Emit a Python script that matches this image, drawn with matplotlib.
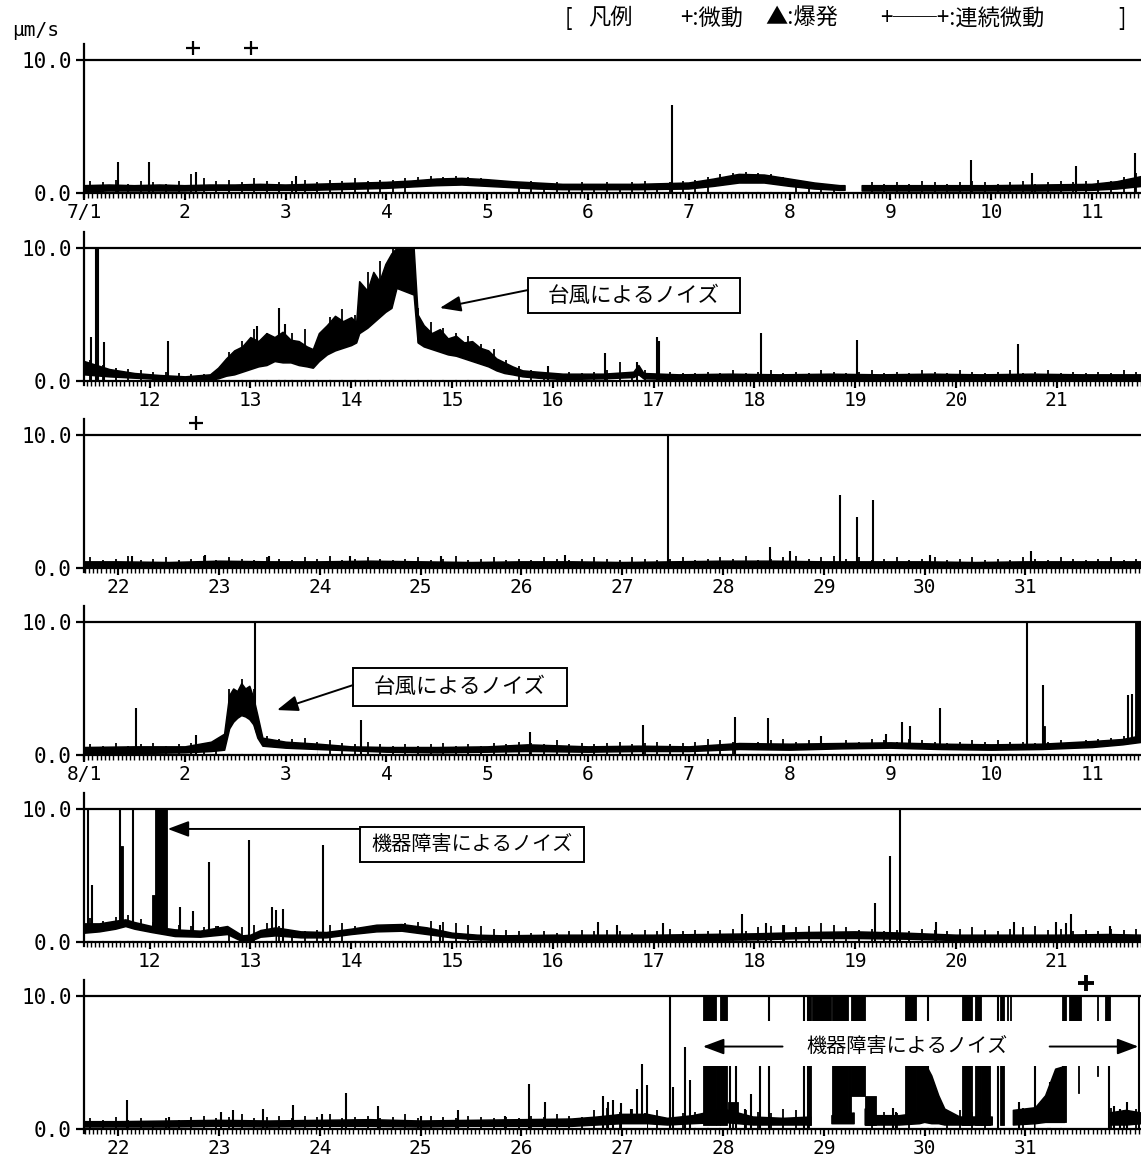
import numpy as np
import matplotlib.pyplot as plt
from matplotlib.patches import Rectangle
from matplotlib.ticker import MultipleLocator

nan = np.nan
JP = ['Noto Sans CJK JP', 'DejaVu Sans']
MONO = 'DejaVu Sans Mono'

# ---------------- data (days of month, amplitude in um/s) ----------------
# panel starts (day of month at the left edge)
starts = [1.0, 11.35, 21.66, 1.0, 11.35, 21.66]

# 7/1 - 7/11
p1_t = [1.0, 1.25, 1.5, 1.75, 2.0, 2.25, 2.5, 2.75, 3.0, 3.25, 3.5, 3.75, 4.0, 4.25, 4.5,
        4.75, 5.0, 5.25, 5.5, 5.75, 6.0, 6.5, 7.0, 7.25, 7.5, 7.75, 8.0, 8.25, 8.5, 8.55,
        8.6, 8.72, 9.0, 9.5, 10.0, 10.5, 11.0, 11.25, 11.5]
p1_lo = [0.1, 0.15, 0.15, 0.15, 0.15, 0.2, 0.2, 0.2, 0.2, 0.2, 0.25, 0.3, 0.35, 0.45, 0.55,
         0.6, 0.5, 0.4, 0.3, 0.25, 0.25, 0.25, 0.3, 0.5, 0.75, 0.75, 0.5, 0.3, 0.2, 0.2,
         nan, 0.15, 0.15, 0.15, 0.15, 0.15, 0.2, 0.3, 0.5]
p1_hi = [0.55, 0.6, 0.55, 0.6, 0.55, 0.6, 0.6, 0.65, 0.6, 0.65, 0.7, 0.75, 0.8, 0.9, 1.05,
         1.1, 1.0, 0.85, 0.75, 0.65, 0.65, 0.65, 0.75, 1.05, 1.4, 1.35, 1.05, 0.75, 0.55, 0.55,
         nan, 0.55, 0.55, 0.55, 0.55, 0.6, 0.65, 0.85, 1.25]
p1_tick = [0.9, 0.8, 1.0, 0.7, 0.9, 0.8, 0.7, 0.9,
           1.4, 1.1, 0.9, 1.0, 0.8, 1.1, 0.9, 0.8,
           0.9, 1.0, 0.8, 1.0, 0.9, 1.1, 0.9, 1.0,
           1.0, 1.1, 1.2, 1.3, 1.2, 1.3, 1.2, 1.1,
           1.0, 0.9, 0.8, 0.9, 0.7, 0.8, 0.7, 0.8,
           0.7, 0.8, 0.7, 0.8, 0.9, 0.7, 0.8, 0.9,
           1.0, 1.2, 1.4, 1.5, 1.6, 1.5, 1.4, 1.2,
           0.9, 0.8, 0.7, 0.6, nan, nan, 0.8, 0.7,
           0.8, 0.7, 0.9, 0.8, 0.7, 0.8, 0.9, 0.8,
           0.7, 0.8, 0.9, 0.7, 0.8, 0.9, 0.8, 0.9,
           1.0, 0.9, 1.2, 1.5]
p1_spk_t = [1.34, 1.64, 2.11, 3.1, 6.83, 9.80, 10.4, 10.84, 11.43]
p1_spk_v = [2.3, 2.3, 1.6, 1.3, 6.6, 2.5, 1.5, 2.0, 3.0]

# 7/11 - 7/21 (typhoon)
p2_t = [11.35, 11.6, 11.85, 12.1, 12.35, 12.6, 12.68, 12.76, 12.84, 12.92, 13.0, 13.08, 13.16,
        13.24, 13.32, 13.4, 13.48, 13.56, 13.62, 13.68, 13.76, 13.84, 13.92, 14.0, 14.05, 14.08,
        14.16, 14.22, 14.28, 14.34, 14.4, 14.45, 14.62, 14.66, 14.72, 14.8, 14.88, 14.96, 15.04,
        15.12, 15.2, 15.28, 15.36, 15.44, 15.52, 15.6, 15.7, 15.85, 16.1, 16.5, 16.8, 16.85,
        16.9, 17.25, 17.75, 18.25, 18.75, 19.25, 19.75, 20.25, 20.75, 21.25, 21.85]
p2_lo = [0.5, 0.35, 0.25, 0.15, 0.05, 0.1, 0.2, 0.4, 0.5, 0.7, 0.9, 1.1, 1.2,
         1.5, 1.4, 1.4, 1.2, 1.1, 1.0, 1.5, 2.0, 2.3, 2.5, 2.7, 2.9, 3.6,
         4.0, 4.4, 4.8, 5.2, 5.5, 7.0, 6.5, 2.9, 2.6, 2.4, 2.2, 2.0, 1.9,
         1.7, 1.5, 1.3, 1.1, 0.8, 0.6, 0.5, 0.35, 0.25, 0.15, 0.2, 0.3, 0.5,
         0.2, 0.15, 0.15, 0.15, 0.15, 0.15, 0.15, 0.15, 0.15, 0.15, 0.15]
p2_hi = [1.5, 0.9, 0.6, 0.45, 0.35, 0.5, 1.0, 1.7, 2.3, 2.6, 3.3, 3.0, 3.6,
         3.3, 3.7, 3.1, 3.0, 2.6, 2.4, 3.6, 4.2, 4.9, 4.5, 4.8, 4.4, 7.5,
         6.8, 8.2, 7.5, 8.8, 9.6, 10, 10, 5.0, 4.2, 3.6, 3.9, 3.2, 3.4,
         2.9, 3.0, 2.5, 2.3, 1.7, 1.4, 1.1, 0.8, 0.7, 0.55, 0.55, 0.7, 1.2,
         0.6, 0.5, 0.55, 0.5, 0.55, 0.5, 0.55, 0.5, 0.55, 0.5, 0.5]
p2_tick = [1.6, 1.2, 1.0, 0.9, 0.8, 0.7, 0.7, 0.6,
           0.5, 0.5, 0.4, 2.2, 3.0, 3.9, 3.6, 4.1,
           3.6, 3.9, 3.0, 4.8, 5.4, 5.0, 8.2, 9.0,
           10, 10, 5.5, 4.4, 4.0, 3.6, 3.4, 2.8,
           2.4, 1.6, 1.1, 0.8, 0.7, 0.6, 0.7, 0.6,
           0.7, 0.8, 1.4, 0.7, 0.8, 0.6, 0.7, 0.6,
           0.6, 0.7, 0.6, 0.8, 0.6, 0.7, 0.8, 0.6,
           0.7, 0.6, 0.8, 0.7, 0.6, 0.7, 0.8, 0.6,
           0.7, 0.6, 0.8, 0.7, 0.6, 0.8, 0.7, 0.6,
           0.7, 0.8, 0.6, 0.7, 0.8, 0.6, 0.7, 0.6,
           0.7, 0.6, 0.8, 0.7]
p2_spk_t = [11.42, 11.47, 11.49, 11.55, 12.18, 13.07, 13.28, 13.34, 15.95, 16.52, 16.84,
            17.03, 17.05, 18.07, 19.02, 20.62]
p2_spk_v = [3.3, 10, 10, 2.9, 3.0, 4.1, 5.5, 4.3, 1.1, 2.1, 1.4, 3.3, 3.0, 3.6, 3.1, 2.8]

# 7/22 - 7/31
p3_t = [21.66, 22.0, 22.5, 23.0, 23.5, 24.0, 24.5, 25.0, 25.5, 26.0, 26.5, 27.0, 27.5, 28.0,
        28.5, 29.0, 29.5, 30.0, 30.5, 31.0, 31.5, 32.15]
p3_lo = [0.1, 0.1, 0.1, 0.15, 0.1, 0.1, 0.15, 0.1, 0.1, 0.1, 0.1, 0.1, 0.1, 0.15, 0.15, 0.1,
         0.1, 0.1, 0.1, 0.1, 0.1, 0.1]
p3_hi = [0.5, 0.5, 0.45, 0.55, 0.5, 0.5, 0.55, 0.5, 0.45, 0.5, 0.5, 0.45, 0.5, 0.55, 0.55,
         0.5, 0.5, 0.5, 0.45, 0.5, 0.5, 0.5]
p3_tick = [0.8, 0.6, 0.7, 0.9, 0.6, 0.7, 0.8, 0.6,
           0.7, 0.9, 0.6, 0.8, 0.7, 0.6, 0.8, 0.7,
           0.6, 0.8, 0.7, 0.9, 0.6, 0.7, 0.8, 0.7,
           0.6, 0.7, 0.8, 0.6, 0.7, 0.9, 0.6, 0.7,
           0.8, 0.6, 0.7, 0.6, 0.8, 0.7, 0.6, 0.7,
           0.8, 0.7, 0.6, 0.8, 0.7, 0.6, 0.7, 0.8,
           0.6, 0.7, 0.8, 0.7, 0.9, 0.6, 0.7, 0.8,
           0.9, 0.7, 0.8, 0.9, 0.7, 0.8, 0.6, 0.7,
           0.8, 0.6, 0.7, 0.8, 0.6, 0.7, 0.8, 0.6,
           0.7, 0.6, 0.8, 0.7, 0.6, 0.8, 0.7, 0.6,
           0.7, 0.8, 0.6, 0.7]
p3_spk_t = [22.14, 22.86, 23.5, 24.3, 25.2, 26.43, 27.45, 28.47, 28.66, 29.16, 29.33, 29.49,
            30.05, 31.05]
p3_spk_v = [0.9, 1.0, 0.9, 0.9, 0.9, 1.0, 10, 1.6, 1.3, 5.5, 3.8, 5.1, 1.0, 1.3]

# 8/1 - 8/11 (typhoon)
p4_t = [1.0, 1.5, 2.0, 2.26, 2.39, 2.44, 2.48, 2.52, 2.56, 2.6, 2.64, 2.68, 2.72, 2.77, 3.0,
        3.32, 3.65, 4.0, 4.5, 5.0, 5.4, 6.0, 6.5, 7.0, 7.5, 8.0, 8.5, 9.0, 9.5, 10.0, 10.5,
        11.0, 11.3, 11.5]
p4_lo = [0.15, 0.15, 0.2, 0.3, 0.4, 2.0, 2.5, 2.8, 3.0, 2.9, 2.7, 2.3, 1.3, 0.7, 0.55,
         0.45, 0.35, 0.25, 0.2, 0.25, 0.3, 0.25, 0.3, 0.3, 0.45, 0.4, 0.5, 0.55, 0.45, 0.4, 0.45,
         0.6, 0.8, 1.0]
p4_hi = [0.6, 0.65, 0.65, 1.0, 1.6, 4.5, 5.0, 4.8, 5.4, 5.0, 5.2, 4.3, 3.0, 1.3, 1.0,
         0.85, 0.65, 0.6, 0.6, 0.65, 0.8, 0.65, 0.7, 0.65, 0.9, 0.85, 0.9, 0.95, 0.85, 0.8, 0.85,
         1.05, 1.2, 1.5]
p4_tick = [0.8, 0.7, 0.9, 0.7, 0.8, 0.9, 0.7, 0.8,
           0.9, 0.8, 1.0, 5.0, 5.7, 5.0, 1.4, 1.2,
           1.2, 1.3, 1.0, 1.1, 0.9, 0.8, 1.0, 0.8,
           0.7, 0.8, 0.7, 0.8, 0.9, 0.7, 0.8, 0.7,
           0.9, 0.8, 1.0, 0.9, 0.8, 1.1, 0.8, 0.9,
           0.8, 0.9, 1.0, 0.8, 0.9, 1.0, 0.8, 0.9,
           1.0, 1.2, 1.1, 1.0, 0.9, 1.0, 1.1, 1.2,
           1.0, 1.1, 1.0, 0.9, 1.1, 1.0, 1.2, 1.1,
           1.0, 1.2, 1.1, 1.0, 0.9, 1.0, 1.1, 1.0,
           1.1, 1.0, 1.0, 0.9, 1.0, 1.1, 1.0, 1.1,
           1.2, 1.3, 1.4, 1.8]
p4_spk_t = [1.52, 2.11, 2.70, 3.75, 5.42, 6.55, 7.46, 7.79, 8.31, 8.96, 9.12, 9.19, 9.49,
            10.36, 10.51, 11.36, 11.40]
p4_spk_v = [3.5, 1.5, 10, 2.6, 1.75, 2.25, 2.85, 2.75, 1.4, 1.6, 2.5, 2.2, 3.5, 10, 5.3, 4.5, 4.6]
p4_blk_t0 = [10.50, 11.43]
p4_blk_t1 = [10.53, 11.50]
p4_blk_lo = [0.5, 1.0]
p4_blk_hi = [2.2, 10]

# 8/11 - 8/21 (instrument trouble at the start)
p5_t = [11.35, 11.5, 11.66, 11.76, 11.85, 12.02, 12.25, 12.5, 12.77, 12.92, 13.0, 13.1, 13.25,
        13.5, 13.75, 14.0, 14.25, 14.5, 14.75, 15.0, 15.25, 15.5, 16.0, 16.5, 17.0, 17.5, 18.0,
        18.5, 19.0, 19.5, 20.0, 20.5, 21.0, 21.5, 21.85]
p5_lo = [0.7, 0.8, 1.0, 1.2, 1.0, 0.75, 0.45, 0.4, 0.6, 0.05, 0.1, 0.4, 0.5, 0.35, 0.35, 0.6,
         0.8, 0.85, 0.6, 0.35, 0.2, 0.15, 0.15, 0.15, 0.15, 0.15, 0.2, 0.3, 0.3, 0.25, 0.15,
         0.15, 0.15, 0.15, 0.15]
p5_hi = [1.4, 1.4, 1.6, 1.7, 1.5, 1.2, 0.95, 0.85, 1.2, 0.5, 0.55, 0.9, 1.1, 0.8, 0.75, 1.0,
         1.3, 1.35, 1.1, 0.7, 0.55, 0.5, 0.55, 0.55, 0.55, 0.6, 0.65, 0.75, 0.8, 0.7, 0.55, 0.55,
         0.55, 0.6, 0.55]
p5_tick = [1.8, 1.6, 1.9, 2.0, 1.7, 1.5, 1.4, 1.3,
           1.2, 1.1, 1.2, 1.0, 1.1, 1.3, 1.4, 1.2,
           0.9, 0.8, 0.9, 1.3, 1.4, 1.2, 1.1, 1.0,
           1.2, 1.4, 1.5, 1.6, 1.5, 1.4, 1.3, 1.2,
           1.0, 0.9, 0.8, 0.7, 0.8, 0.7, 0.8, 0.9,
           0.8, 0.9, 0.8, 0.7, 0.9, 0.8, 1.0, 0.8,
           0.9, 0.8, 0.9, 1.0, 0.8, 1.1, 1.2, 1.3,
           1.1, 1.2, 1.4, 1.3, 1.1, 0.9, 1.0, 0.8,
           0.9, 0.8, 1.0, 0.9, 0.8, 1.0, 1.1, 0.9,
           0.8, 1.0, 1.1, 1.2, 0.9, 1.0, 0.8, 0.9,
           0.8, 1.0, 0.9, 1.0]
p5_spk_t = [11.39, 11.43, 11.71, 11.84, 12.3, 12.43, 12.59, 12.68, 12.99, 13.22, 13.25, 13.32,
            13.72, 14.88, 16.45, 16.64, 17.09, 17.88, 18.12, 18.29, 19.20, 19.35, 19.45, 19.80,
            20.58, 20.99, 21.09, 21.14, 21.53]
p5_spk_v = [10, 4.3, 10, 10, 2.65, 2.3, 6.05, 1.2, 7.7, 2.65, 2.4, 2.5, 7.3, 1.3, 1.5, 1.25,
            1.4, 2.1, 1.4, 1.3, 2.9, 6.45, 10, 1.5, 1.5, 1.5, 1.4, 2.1, 1.2]
p5_blk_t0 = [11.70, 12.02, 12.05]
p5_blk_t1 = [11.735, 12.05, 12.17]
p5_blk_lo = [1.3, 1.0, 0.9]
p5_blk_hi = [7.2, 3.5, 10]

# 8/22 - 8/31 (instrument trouble at the end)
p6_t = [21.66, 22.0, 22.5, 23.0, 23.5, 24.0, 24.5, 25.0, 25.5, 26.0, 26.5, 26.75, 27.0, 27.25,
        27.45, 27.7, 28.0, 28.3, 28.6, 28.87, 28.97, 29.08, 29.3, 29.35, 29.41, 29.5, 29.75,
        29.95, 30.0, 30.07, 30.14, 30.2, 30.35, 30.67, 30.78, 30.88, 31.1, 31.2, 31.3, 31.39,
        31.6, 31.83, 32.0, 32.15]
p6_lo = [0.15, 0.15, 0.15, 0.2, 0.15, 0.2, 0.2, 0.15, 0.2, 0.2, 0.2, 0.3, 0.4, 0.4, 0.3, 0.4,
         0.5, 0.3, 0.3, 0.3, nan, 0.4, 0.4, nan, 0.3, 0.3, 0.3, 0.4, 0.5, 0.4, 0.4, 0.3, 0.3,
         0.3, nan, 0.3, 0.4, 0.5, 0.5, 0.5, nan, 0.3, 0.3, 0.4]
p6_hi = [0.55, 0.55, 0.6, 0.65, 0.6, 0.65, 0.7, 0.6, 0.65, 0.7, 0.75, 0.9, 1.1, 1.1, 0.8, 1.0,
         1.5, 0.9, 0.8, 0.9, nan, 1.0, 1.2, nan, 1.5, 1.0, 1.0, 1.2, 5.0, 4.0, 2.5, 1.5, 0.9,
         0.9, nan, 1.4, 1.6, 2.5, 4.5, 4.7, nan, 1.2, 1.4, 1.2]
p6_tick = [0.8, 0.7, 0.9, 0.7, 0.8, 0.6, 0.8, 0.7,
           0.9, 1.0, 0.8, 0.9, 1.1, 0.8, 0.9, 1.0,
           0.8, 1.0, 0.9, 1.1, 0.8, 0.9, 1.0, 0.8,
           0.9, 1.1, 0.8, 1.0, 0.9, 0.8, 1.0, 0.9,
           0.8, 0.9, 0.8, 1.0, 0.9, 1.1, 1.0, 0.9,
           1.4, 1.6, 1.3, 1.5, 1.2, 1.4, 1.6, 1.2,
           1.3, 1.5, 1.2, 1.1, 1.4, 1.3, 1.2, 1.5,
           1.4, 1.2, nan, 1.5, 1.8, nan, 1.4, 1.3,
           1.2, 1.4, 1.5, 1.3, 1.2, 1.4, 1.3, 1.5,
           nan, nan, 1.6, 1.8, 2.0, 2.5, nan, nan,
           nan, 1.6, 1.4, 1.5]
p6_spk_t = [22.09, 22.5, 23.02, 23.14, 23.44, 23.73, 24.02, 24.26, 24.58, 25.0, 25.37, 25.84,
            26.07, 26.23, 26.81, 26.86, 26.91, 26.99, 27.09, 27.15, 27.20, 27.25, 27.47, 27.50,
            27.62, 27.67, 28.07, 28.13, 28.22, 28.28, 28.37, 28.46, 28.80, 28.84, 29.69, 29.72,
            30.03, 30.73, 30.94, 31.09, 31.24, 31.83, 31.88, 31.94, 32.01, 32.13]
p6_spk_v = [2.2, 0.9, 1.3, 1.4, 1.5, 1.8, 1.15, 2.7, 1.7, 1.0, 1.4, 1.0, 3.4, 2.0, 2.5, 2.0,
            2.2, 1.95, 1.5, 3.0, 4.9, 3.3, 10, 3.15, 6.2, 3.7, 4.85, 4.8, 1.5, 2.6, 4.8, 10,
            10, 10, 1.6, 1.3, 10, 10, 2.0, 5.0, 3.5, 5.0, 1.7, 1.5, 2.0, 10]
p6_blk_t0 = [27.80, 27.93, 27.97, 28.05, 28.83, 28.88, 29.08, 29.24, 29.27, 29.41, 29.80,
             29.91, 30.37, 30.50, 30.56, 30.75, 30.815, 30.845, 31.36, 31.43, 31.525, 31.705, 31.79]
p6_blk_t1 = [27.93, 27.97, 28.04, 28.15, 28.87, 29.07, 29.24, 29.27, 29.41, 29.52, 29.91,
             29.99, 30.47, 30.56, 30.65, 30.79, 30.825, 30.855, 31.40, 31.55, 31.535, 31.715, 31.84]
p6_blk_lo = [0.3, 0.3, 0.3, 0.5, 0.3, 5.0, 0.5, 0.5, 2.5, 0.3, 0.5, 0.5, 0.3, 0.3, 0.3, 0.3,
             5.0, 5.0, 0.5, 6.0, 2.7, 4.0, 5.0]
p6_blk_hi = [10, 6.0, 10, 2.0, 10, 10, 10, 7.0, 10, 2.5, 10, 7.0, 10, 10, 5.0, 10, 10, 10,
             10, 10, 6.0, 10, 10]

# tick labels per panel
p1_days = list(range(1, 12))
p1_labels = ['7/1'] + [str(d) for d in range(2, 12)]
p2_days = list(range(12, 22))
p2_labels = [str(d) for d in p2_days]
p3_days = list(range(22, 32))
p3_labels = [str(d) for d in p3_days]
p4_labels = ['8/1'] + [str(d) for d in range(2, 12)]

# "+" (microtremor) marks
p1_mark = [2.08, 2.66]
p3_mark = [22.77]
p6_mark = [31.6]

# legend pieces and their left edges (pixels)
legend_parts = ['[', '凡例', '+:微動', '▲:爆発', '+──+:連続微動', ']']
legend_x = [565, 588, 680, 765, 880, 1118]

# ---------------- layout ----------------
W, H = 1141, 1162
PPU = 13.3          # pixels per um/s
PPD = 100.8         # pixels per day
X0 = 84             # left axis position in pixels
YLO, YHI = -0.3, 11.2
zeros_px = [193, 381, 568, 755, 942, 1129]

fig = plt.figure(figsize=(W / 100, H / 100), dpi=100)


def make_ax(zero_px, start, days, labels):
    bottom_px = zero_px - YLO * PPU
    height_px = (YHI - YLO) * PPU
    ax = fig.add_axes([X0 / W, 1 - bottom_px / H, (W - X0) / W, height_px / H])
    ax.set_xlim(start, start + (W - X0) / PPD)
    ax.set_ylim(YLO, YHI)
    for s in ['top', 'right']:
        ax.spines[s].set_visible(False)
    ax.spines['bottom'].set_position(('data', 0))
    ax.spines['left'].set_linewidth(1.6)
    ax.spines['bottom'].set_linewidth(1.6)
    ax.axhline(10, color='black', lw=1.6, zorder=1)
    ax.set_yticks([0, 10])
    ax.set_yticklabels(['0.0', '10.0'], fontfamily=MONO, fontsize=15)
    ax.set_xticks(days)
    ax.set_xticklabels(labels, fontfamily=MONO, fontsize=14)
    ax.xaxis.set_minor_locator(MultipleLocator(1 / 24))
    ax.tick_params(axis='y', length=6, width=1.6, pad=3)
    ax.tick_params(axis='x', which='major', length=5, width=1.6, pad=2)
    ax.tick_params(axis='x', which='minor', length=3.5, width=1.0)
    return ax


def draw(ax, start, t, lo, hi, tick, spk_t, spk_v, b0=(), b1=(), blo=(), bhi=()):
    lo = np.array(lo)
    tick = np.array(tick)
    tt = start + 0.0625 + 0.125 * np.arange(len(tick))
    ok = np.isfinite(tick)
    # hair-like noise and spikes, then blank out the space under a lifted band
    ax.vlines(tt[ok], 0, tick[ok], color='black', lw=1.3, zorder=1.5)
    ax.vlines(spk_t, 0, spk_v, color='black', lw=1.5, zorder=1.6)
    ax.fill_between(t, 0.08, lo, where=lo > 0.35, color='white', lw=0, zorder=1.8)
    ax.fill_between(t, lo, hi, color='black', lw=1.1, zorder=2)
    for a, b, l, h in zip(b0, b1, blo, bhi):
        ax.add_patch(Rectangle((a, l), b - a, h - l, facecolor='black',
                               edgecolor='black', lw=0.6, zorder=3))


ax1 = make_ax(zeros_px[0], starts[0], p1_days, p1_labels)
draw(ax1, starts[0], p1_t, p1_lo, p1_hi, p1_tick, p1_spk_t, p1_spk_v)
ax2 = make_ax(zeros_px[1], starts[1], p2_days, p2_labels)
draw(ax2, starts[1], p2_t, p2_lo, p2_hi, p2_tick, p2_spk_t, p2_spk_v)
ax3 = make_ax(zeros_px[2], starts[2], p3_days, p3_labels)
draw(ax3, starts[2], p3_t, p3_lo, p3_hi, p3_tick, p3_spk_t, p3_spk_v)
ax4 = make_ax(zeros_px[3], starts[3], p1_days, p4_labels)
draw(ax4, starts[3], p4_t, p4_lo, p4_hi, p4_tick, p4_spk_t, p4_spk_v,
     p4_blk_t0, p4_blk_t1, p4_blk_lo, p4_blk_hi)
ax5 = make_ax(zeros_px[4], starts[4], p2_days, p2_labels)
draw(ax5, starts[4], p5_t, p5_lo, p5_hi, p5_tick, p5_spk_t, p5_spk_v,
     p5_blk_t0, p5_blk_t1, p5_blk_lo, p5_blk_hi)
ax6 = make_ax(zeros_px[5], starts[5], p3_days, p3_labels)
draw(ax6, starts[5], p6_t, p6_lo, p6_hi, p6_tick, p6_spk_t, p6_spk_v,
     p6_blk_t0, p6_blk_t1, p6_blk_lo, p6_blk_hi)

# "+" marks above the panels
ax1.plot(p1_mark, [10.9] * len(p1_mark), '+', color='black', ms=10, mew=1.6, clip_on=False)
ax3.plot(p3_mark, [10.9] * len(p3_mark), '+', color='black', ms=10, mew=1.6, clip_on=False)
ax6.plot(p6_mark, [11.0] * len(p6_mark), '+', color='black', ms=11, mew=2.8, clip_on=False)

# ---------------- annotations ----------------
ARROW = dict(arrowstyle='-|>,head_length=0.8,head_width=0.3', mutation_scale=16,
             color='black', lw=1.4, shrinkA=0, shrinkB=0)


def boxed_note(ax, x0, x1, y0, y1, text, size, tail, head):
    ax.add_patch(Rectangle((x0, y0), x1 - x0, y1 - y0, facecolor='white',
                           edgecolor='black', lw=1.4, zorder=5))
    ax.text((x0 + x1) / 2, (y0 + y1) / 2, text, ha='center', va='center',
            fontfamily=JP, fontsize=size, zorder=6)
    ax.annotate('', xy=head, xytext=tail, arrowprops=ARROW, zorder=6)


boxed_note(ax2, 15.755, 17.86, 5.1, 7.74, '台風によるノイズ', 15.5, (15.755, 6.84), (14.88, 5.49))
boxed_note(ax4, 3.67, 5.79, 3.68, 6.54, '台風によるノイズ', 15.5, (3.67, 5.26), (2.915, 3.38))
boxed_note(ax5, 14.09, 16.31, 6.0, 8.65, '機器障害によるノイズ', 14.5, (14.09, 8.5), (12.18, 8.5))

# last panel: label on a white band with arrows both ways
ax6.add_patch(Rectangle((27.77, 4.7), 31.9 - 27.77, 8.1 - 4.7, facecolor='white',
                        edgecolor='none', zorder=5))
ax6.text(29.82, 6.2, '機器障害によるノイズ', ha='center', va='center',
         fontfamily=JP, fontsize=14.5, zorder=6)
ax6.annotate('', xy=(27.8, 6.2), xytext=(28.59, 6.2), arrowprops=ARROW, zorder=6)
ax6.annotate('', xy=(32.12, 6.2), xytext=(31.24, 6.2), arrowprops=ARROW, zorder=6)

# unit and legend
fig.text(12 / W, 1 - 31 / H, 'μm/s', fontfamily=MONO, fontsize=14, va='center', ha='left')
for part, px in zip(legend_parts, legend_x):
    fig.text(px / W, 1 - 18 / H, part, fontfamily=JP, fontsize=16, va='center', ha='left')

fig.savefig('out.png', dpi=100)
